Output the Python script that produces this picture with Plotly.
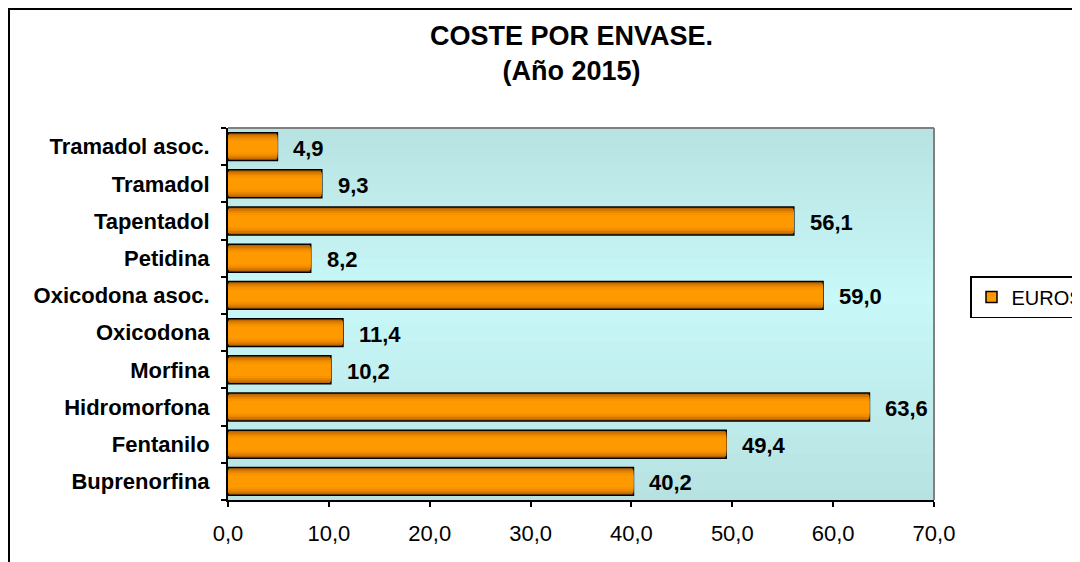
import plotly.graph_objects as go

categories = ["Buprenorfina", "Fentanilo", "Hidromorfona", "Morfina", "Oxicodona",
              "Oxicodona asoc.", "Petidina", "Tapentadol", "Tramadol", "Tramadol asoc."]
euros = [40.2, 49.4, 63.6, 10.2, 11.4, 59.0, 8.2, 56.1, 9.3, 4.9]
value_labels = ["40,2", "49,4", "63,6", "10,2", "11,4", "59,0", "8,2", "56,1", "9,3", "4,9"]
tick_vals = [0, 10, 20, 30, 40, 50, 60, 70]
tick_text = ["0,0", "10,0", "20,0", "30,0", "40,0", "50,0", "60,0", "70,0"]

FONT = "Liberation Sans, Arial, sans-serif"
OFF = 8  # page body margin offset
W, H = 1080 - OFF, 562 - OFF
L, T = 228 - OFF, 128 - OFF
PW, PH = 706, 372
R = W - L - PW
B = H - T - PH

fig = go.Figure()

fig.add_trace(go.Bar(
    y=categories, x=euros, orientation="h", name="EUROS", width=0.75, showlegend=False,
    marker=dict(color="#b86400", line=dict(color="black", width=1.5)),
    hoverinfo="skip",
))
grad = [(0.64, "#d47700"), (0.54, "#ea8700"), (0.44, "#f89300"), (0.32, "#ff9900")]
for w, c in grad:
    fig.add_trace(go.Bar(
        y=categories, x=euros, orientation="h", width=w, showlegend=False,
        marker=dict(color=c, line=dict(width=0)), hoverinfo="skip",
    ))
# legend entry (orange square with black outline)
fig.add_trace(go.Scatter(
    x=[None], y=[None], mode="markers", name="EUROS",
    marker=dict(symbol="square", size=11, color="#ff9900", line=dict(color="black", width=1.5)),
))

for cat, v, lab in zip(categories, euros, value_labels):
    fig.add_annotation(x=v, y=cat, text="<b>" + lab + "</b>", showarrow=False,
                       xanchor="left", yanchor="middle", xshift=14, yshift=-1.5,
                       font=dict(family=FONT, size=22, color="black"))

shapes = []
N = 40
top_c = (0xB8, 0xE2, 0xE2)
mid_c = (0xC8, 0xF8, 0xF8)
center = 0.55
for i in range(N):
    y0, y1 = i / N, (i + 1) / N
    ym = (y0 + y1) / 2
    d = abs(ym - center) / (center if ym < center else 1 - center)
    d = min(d, 1.0)
    col = tuple(int(round(m + (t - m) * d)) for m, t in zip(mid_c, top_c))
    shapes.append(dict(type="rect", xref="x domain", yref="y domain", x0=0, x1=1,
                       y0=y0, y1=y1 + 0.002, layer="below", line=dict(width=0),
                       fillcolor="rgb(%d,%d,%d)" % col))
shapes.append(dict(type="line", xref="x domain", yref="y domain", x0=0, x1=1, y0=1, y1=1,
                   line=dict(color="#808080", width=2)))
shapes.append(dict(type="line", xref="x domain", yref="y domain", x0=1, x1=1, y0=0, y1=1,
                   line=dict(color="#808080", width=2)))
shapes.append(dict(type="rect", xref="paper", yref="paper",
                   x0=(1 - L) / PW, x1=1.5, y0=-0.5, y1=(T + PH - 1) / PH,
                   line=dict(color="black", width=2), fillcolor="rgba(0,0,0,0)"))

fig.add_annotation(xref="paper", yref="paper", x=(571.5 - OFF - L) / PW,
                   y=(T + PH - (54 - OFF)) / PH,
                   text="<b>COSTE POR ENVASE.<br>(Año 2015)</b>", showarrow=False,
                   xanchor="center", yanchor="middle",
                   font=dict(family=FONT, size=27, color="black"))

fig.update_layout(
    width=W, height=H,
    margin=dict(l=L, r=R, t=T, b=B, autoexpand=False),
    barmode="overlay",
    paper_bgcolor="white", plot_bgcolor="#b8e2e2",
    font=dict(family=FONT, color="black"),
    shapes=shapes,
    showlegend=True,
    legend=dict(x=(970 - OFF - L) / PW, y=(T + PH - (276 - OFF)) / PH,
                xanchor="left", yanchor="top", itemwidth=30,
                bgcolor="white", bordercolor="black", borderwidth=1.5,
                font=dict(family=FONT, size=20, color="black")),
    xaxis=dict(range=[0, 70], tickvals=tick_vals, ticktext=tick_text,
               showgrid=False, zeroline=False, showline=True, linecolor="black", linewidth=2,
               ticks="outside", ticklen=5, tickwidth=1.5, tickcolor="black",
               ticklabelstandoff=8,
               tickfont=dict(family=FONT, size=22, color="black"), fixedrange=True),
    yaxis=dict(categoryorder="array", categoryarray=categories, range=[-0.5, 9.5],
               showgrid=False, zeroline=False, showline=True, linecolor="black", linewidth=2,
               ticks="outside", ticklen=5, tickwidth=1.5, tickcolor="black",
               tickson="boundaries", ticklabelstandoff=12,
               tickprefix="<b>", ticksuffix="</b>",
               tickfont=dict(family=FONT, size=22, color="black"), fixedrange=True),
)

fig.write_html("out.html")
